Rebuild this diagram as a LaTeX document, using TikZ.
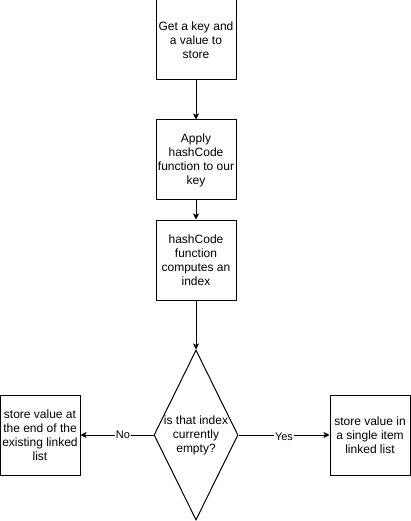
\documentclass[tikz,border=0pt]{standalone}
\usepackage{fontspec}
\setmainfont{Liberation Sans}
\usetikzlibrary{shapes.geometric,arrows.meta}

\begin{document}
\begin{tikzpicture}[>={Stealth[length=6pt,width=6pt,inset=1.5pt]}, x=1pt, y=-1pt, line width=1pt,
  stepbox/.style={shape=rectangle,draw,minimum width=80pt,minimum height=80pt,
    inner sep=0pt,align=center,font=\fontsize{12}{14}\selectfont},
  edgelabel/.style={fill=white,inner sep=1pt,font=\fontsize{11}{13}\selectfont}]
\useasboundingbox (0,0) rectangle (411,521);
\node    (get) at (196,40)  [stepbox] {Get a key and\\a value to\\store};
\node  (apply) at (196,160) [stepbox] {Apply\\hashCode\\function to our\\key};
\node   (hash) at (196,260) [stepbox] {hashCode\\function\\computes an\\index};
\node  (check) at (196,435) [shape=diamond,draw,minimum width=84pt,minimum height=170pt,inner sep=0pt] {};
\node  (checktext) at (196,435) [align=center,font=\fontsize{12}{14}\selectfont] {is that index\\currently\\empty?};
\node (append) at (40,435)  [stepbox] {store value at\\the end of the\\existing linked\\list};
\node (single) at (370,435) [stepbox] {store value in\\a single item\\linked list};
\draw [->]   (get) -- (apply);
\draw [->] (apply) -- (hash);
\draw [->]  (hash) -- (check);
\draw [->] (check) -- node [edgelabel,pos=0.42] {No} (append);
\draw [->] (check) -- node [edgelabel,pos=0.5,yshift=-2pt] {Yes} (single);
\end{tikzpicture}
\end{document}
